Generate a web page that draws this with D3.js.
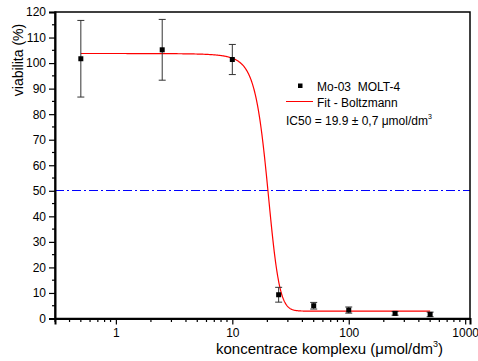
<!DOCTYPE html>
<html>
<head>
<meta charset="utf-8">
<script src="https://cdn.jsdelivr.net/npm/d3@7"></script>
<style>
  body { margin: 0; background: #fff; }
  svg { display: block; font-family: "Liberation Sans", Arial, sans-serif; }
</style>
</head>
<body>
<svg id="chart" width="478" height="361"></svg>
<script>
// Measured viability of MOLT-4 cells vs. complex concentration
const concentrations = [0.5, 2.5, 10, 25, 50, 100, 250, 500];
const viability      = [101.7, 105.2, 101.4, 9.3, 5.0, 3.3, 2.0, 1.6];
const viabilityErr   = [15.0, 11.9, 5.9, 2.9, 1.3, 1.2, 0.7, 0.9];

// Boltzmann fit parameters: A1 (top), A2 (bottom), x0 (centre), dx (width)
const fitA1 = 103.8, fitA2 = 2.9, fitX0 = 19.9, fitDx = 2.5;

const xTickValues = [1, 10, 100, 1000];
const yTickValues = [0, 10, 20, 30, 40, 50, 60, 70, 80, 90, 100, 110, 120];
const referenceLevel = 50;

const margin = { left: 55, right: 8, top: 12, bottom: 42.5 };
const width = 478, height = 361;
const svg = d3.select("#chart");

const x = d3.scaleLog().domain([0.3, 1100]).range([margin.left, width - margin.right]);
const y = d3.scaleLinear().domain([0, 120]).range([height - margin.bottom, margin.top]);

const x0 = margin.left, x1 = width - margin.right;
const y0 = height - margin.bottom, y1 = margin.top;

// 50 % reference line (snapped to the pixel grid)
const yRef = Math.floor(y(referenceLevel)) + 0.5;
svg.append("line")
  .attr("x1", x0).attr("x2", x1)
  .attr("y1", yRef).attr("y2", yRef)
  .attr("stroke", "#0000ff").attr("stroke-width", 1)
  .attr("stroke-dasharray", "9,3,2,3");

// Fitted curve
const boltzmann = c => fitA2 + (fitA1 - fitA2) / (1 + Math.exp((c - fitX0) / fitDx));
const lo = Math.log10(concentrations[0]), hi = Math.log10(concentrations[concentrations.length - 1]);
const curve = d3.range(0, 801).map(i => {
  const c = Math.pow(10, lo + (hi - lo) * i / 800);
  return [c, boltzmann(c)];
});
svg.append("path")
  .datum(curve)
  .attr("fill", "none")
  .attr("stroke", "#ff0000").attr("stroke-width", 1.2)
  .attr("d", d3.line().x(d => x(d[0])).y(d => y(d[1])));

// Error bars
const bars = svg.append("g").attr("stroke", "#333").attr("stroke-width", 1);
concentrations.forEach((c, i) => {
  const cx = x(c), top = y(viability[i] + viabilityErr[i]), bot = y(viability[i] - viabilityErr[i]);
  bars.append("line").attr("x1", cx).attr("x2", cx).attr("y1", top).attr("y2", bot);
  bars.append("line").attr("x1", cx - 3.5).attr("x2", cx + 3.5).attr("y1", top).attr("y2", top);
  bars.append("line").attr("x1", cx - 3.5).attr("x2", cx + 3.5).attr("y1", bot).attr("y2", bot);
});

// Data markers
svg.append("g").selectAll("rect")
  .data(concentrations)
  .join("rect")
  .attr("x", (d) => x(d) - 2.5)
  .attr("y", (d, i) => y(viability[i]) - 2.5)
  .attr("width", 5).attr("height", 5)
  .attr("fill", "#000");

// Frame
svg.append("rect")
  .attr("x", x0).attr("y", y1).attr("width", x1 - x0).attr("height", y0 - y1)
  .attr("fill", "none").attr("stroke", "#000").attr("stroke-width", 1.5);

// Y axis
const yAxis = svg.append("g").attr("transform", `translate(${x0},0)`)
  .call(d3.axisLeft(y).tickValues(yTickValues).tickSize(6).tickPadding(3).tickFormat(d3.format("d")));
yAxis.select(".domain").attr("stroke-width", 2);
yAxis.selectAll("text").attr("font-size", 12).attr("fill", "#000").attr("font-family", "Liberation Sans, Arial, sans-serif");
yAxis.selectAll(".tick line").attr("stroke-width", 1.2);
const yMinor = d3.range(5, 120, 10);
svg.append("g").selectAll("line").data(yMinor).join("line")
  .attr("x1", x0 - 3).attr("x2", x0).attr("y1", d => y(d)).attr("y2", d => y(d))
  .attr("stroke", "#000").attr("stroke-width", 1.2);

// X axis
const xAxis = svg.append("g").attr("transform", `translate(0,${y0})`)
  .call(d3.axisBottom(x).tickValues(xTickValues).tickSize(6).tickPadding(4).tickFormat(d3.format("d")));
xAxis.select(".domain").attr("stroke-width", 2);
xAxis.selectAll("text").attr("font-size", 12).attr("fill", "#000").attr("font-family", "Liberation Sans, Arial, sans-serif");
xAxis.selectAll(".tick line").attr("stroke-width", 1.2);
const xMinor = [];
[0.1, 1, 10, 100].forEach(dec => { for (let k = 2; k <= 9; k++) { const v = dec * k; if (v >= 0.3 && v <= 1100) xMinor.push(v); } });
svg.append("g").selectAll("line").data(xMinor).join("line")
  .attr("x1", d => x(d)).attr("x2", d => x(d)).attr("y1", y0).attr("y2", y0 + 3.5)
  .attr("stroke", "#000").attr("stroke-width", 1.2);

// Axis titles
svg.append("text")
  .attr("transform", "translate(23,60) rotate(-90)")
  .attr("text-anchor", "middle").attr("font-size", 14).attr("fill", "#000")
  .text("viabilita (%)");

const xt = svg.append("text")
  .attr("x", 216).attr("y", 354).attr("font-size", 15).attr("fill", "#000");
xt.append("tspan").text("koncentrace komplexu (μmol/dm");
xt.append("tspan").attr("font-size", 9).attr("dy", -7).text("3");
xt.append("tspan").attr("dy", 7).text(")");

// Legend
const lg = svg.append("g").attr("font-size", 12).attr("fill", "#000");
lg.append("rect").attr("x", 298).attr("y", 83.5).attr("width", 4.5).attr("height", 4.5).attr("fill", "#000");
lg.append("text").attr("x", 317).attr("y", 90.5).attr("xml:space", "preserve").text("Mo-03  MOLT-4");
lg.append("line").attr("x1", 286).attr("x2", 313).attr("y1", 101.5).attr("y2", 101.5)
  .attr("stroke", "#ff0000").attr("stroke-width", 1);
lg.append("text").attr("x", 317).attr("y", 106.5).text("Fit - Boltzmann");
const ic = lg.append("text").attr("x", 286).attr("y", 124.5);
ic.append("tspan").text("IC50 = 19.9 ± 0,7 μmol/dm");
ic.append("tspan").attr("font-size", 7).attr("dy", -6).text("3");
</script>
</body>
</html>
